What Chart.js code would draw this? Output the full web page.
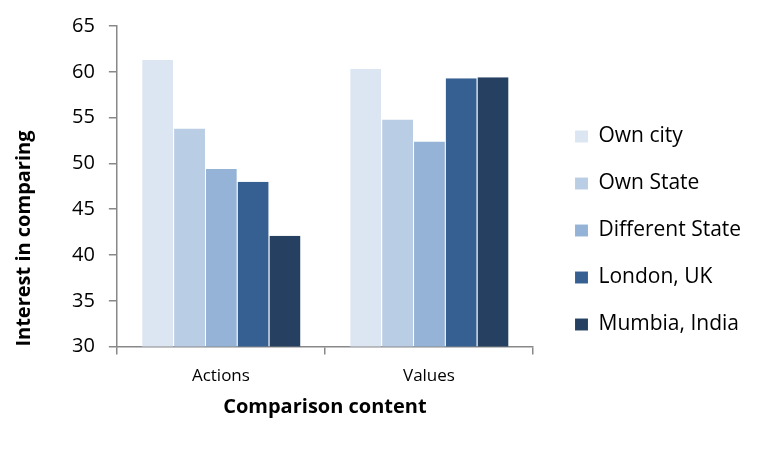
<!DOCTYPE html>
<html>
<head>
<meta charset="utf-8">
<script src="https://cdn.jsdelivr.net/npm/chart.js@4.4.1/dist/chart.umd.min.js"></script>
<style>
html,body{margin:0;padding:0;background:#fff;}
#wrap{width:771px;height:453px;}
</style>
</head>
<body>
<div id="wrap"><canvas id="c" width="771" height="453"></canvas></div>
<script>
const categories = ["Actions", "Values"];
const seriesNames = ["Own city", "Own State", "Different State", "London, UK", "Mumbia, India"];
const ownCity = [61.3, 60.3];
const ownState = [53.8, 54.8];
const differentState = [49.4, 52.4];
const london = [48.0, 59.3];
const mumbai = [42.1, 59.4];
const yTicks = [30, 35, 40, 45, 50, 55, 60, 65];
const colors = ["#DCE6F2", "#B9CDE5", "#95B3D7", "#376092", "#254061"];
const seriesValues = [ownCity, ownState, differentState, london, mumbai];

const FONT = "'Open Sans', 'Noto Sans', sans-serif";

// give the legend a fixed width and shift its entries away from the plot
const legendShift = {
  id: 'legendShift',
  afterInit(chart) {
    const lg = chart.legend;
    if (!lg) return;
    const W = 217, dx = 16, dy = 6.5;
    const origFit = lg.fit.bind(lg);
    lg.fit = function () { origFit(); this.width = W; };
    const origDraw = lg.draw.bind(lg);
    lg.draw = function () {
      this.left += dx; this.top += dy; this.bottom += dy;
      origDraw();
      this.left -= dx; this.top -= dy; this.bottom -= dy;
    };
  }
};

new Chart(document.getElementById('c'), {
  type: 'bar',
  data: {
    labels: categories,
    datasets: seriesNames.map((n, i) => ({
      label: n,
      data: seriesValues[i],
      backgroundColor: colors[i],
      borderColor: 'rgba(255,255,255,0.35)',
      borderWidth: {left: 1, right: 0, top: 0, bottom: 0},
      categoryPercentage: 0.765,
      barPercentage: 1.0
    }))
  },
  plugins: [legendShift],
  options: {
    responsive: false,
    animation: false,
    devicePixelRatio: 1,
    layout: { padding: { left: 8, right: 21, top: 25, bottom: 30 } },
    plugins: {
      tooltip: { enabled: false },
      legend: {
        position: 'right',
        align: 'center',
        labels: {
          font: { family: FONT, size: 21 },
          color: '#000',
          boxWidth: 13,
          boxHeight: 12,
          padding: 26,
          useBorderRadius: false
        }
      }
    },
    scales: {
      x: {
        grid: { offset: true, drawOnChartArea: false, drawTicks: true, tickLength: 8, color: '#888', lineWidth: 1.5 },
        border: { color: '#888', width: 1.5 },
        ticks: { font: { family: FONT, size: 17 }, color: '#000', padding: 11 },
        title: { display: true, text: 'Comparison content', font: { family: FONT, size: 20, weight: 'bold' }, color: '#000', padding: { top: -2, bottom: 4 } }
      },
      y: {
        min: 30,
        max: 65,
        afterBuildTicks: (axis) => { axis.ticks = yTicks.map(v => ({ value: v })); },
        grid: { drawOnChartArea: false, drawTicks: true, tickLength: 8, color: '#888', lineWidth: 1.5 },
        border: { color: '#888', width: 1.5 },
        ticks: { font: { family: FONT, size: 20 }, color: '#000', padding: 14 },
        title: { display: true, align: 'start', text: 'Interest in comparing', font: { family: FONT, size: 20, weight: 'bold' }, color: '#000', padding: { top: 4, bottom: 22 } }
      }
    }
  }
});
</script>
</body>
</html>
